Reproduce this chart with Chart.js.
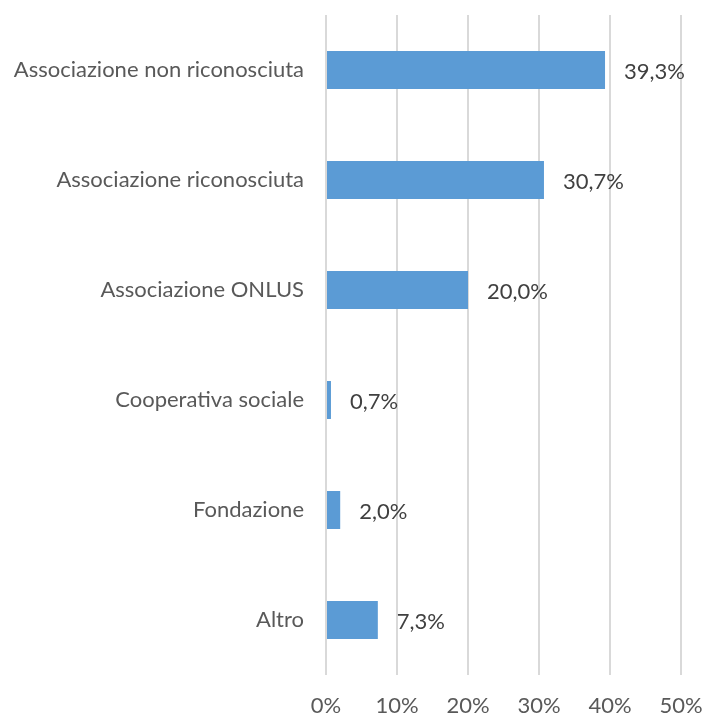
<!DOCTYPE html>
<html>
<head>
<meta charset="utf-8">
<script src="https://cdn.jsdelivr.net/npm/chart.js@4"></script>
<style>
    html, body { margin: 0; padding: 0; background: #ffffff; }
    #wrap { width: 703px; height: 713px; }
</style>
</head>
<body>
<div id="wrap"><canvas id="formChart"></canvas></div>
<script>
const categories = [
    'Associazione non riconosciuta',
    'Associazione riconosciuta',
    'Associazione ONLUS',
    'Cooperativa sociale',
    'Fondazione',
    'Altro'
];
const shares = [39.3, 30.7, 20.0, 0.7, 2.0, 7.3];
const xTicks = [0, 10, 20, 30, 40, 50];

const fmt = (v) => v.toFixed(1).replace('.', ',') + '%';

const valueLabels = {
    id: 'valueLabels',
    afterDatasetsDraw(chart) {
        const ctx = chart.ctx;
        const meta = chart.getDatasetMeta(0);
        ctx.save();
        ctx.font = '22px Lato';
        ctx.fillStyle = '#404040';
        ctx.textAlign = 'left';
        ctx.textBaseline = 'middle';
        meta.data.forEach((bar, i) => {
            ctx.fillText(fmt(shares[i]), bar.x + 19, bar.y + 2);
        });
        ctx.restore();
    }
};

new Chart(document.getElementById('formChart'), {
    type: 'bar',
    data: {
        labels: categories,
        datasets: [{
            data: shares,
            backgroundColor: '#5b9bd5',
            borderWidth: 0,
            barPercentage: 0.345,
            categoryPercentage: 1
        }]
    },
    plugins: [valueLabels],
    options: {
        indexAxis: 'y',
        responsive: true,
        maintainAspectRatio: false,
        animation: false,
        layout: {
            padding: { top: 15, right: 22, left: 0, bottom: 0 }
        },
        plugins: {
            legend: { display: false },
            tooltip: { enabled: false }
        },
        scales: {
            x: {
                min: 0,
                max: 50,
                afterBuildTicks: (scale) => {
                    scale.ticks = xTicks.map((v) => ({ value: v }));
                },
                afterFit: (scale) => {
                    scale.height = 38;
                    scale.paddingLeft = 0;
                    scale.paddingRight = 0;
                },
                grid: {
                    color: '#d9d9d9',
                    lineWidth: 2,
                    drawTicks: false
                },
                border: { display: false },
                ticks: {
                    padding: 18,
                    color: '#595959',
                    font: { family: 'Lato', size: 22 },
                    callback: (v) => v + '%'
                }
            },
            y: {
                afterFit: (scale) => {
                    scale.width = 326;
                    scale.paddingTop = 0;
                    scale.paddingBottom = 0;
                },
                grid: { display: false, drawTicks: false },
                border: { display: false },
                ticks: {
                    padding: 22,
                    color: '#595959',
                    font: { family: 'Lato', size: 22 }
                }
            }
        }
    }
});
</script>
</body>
</html>
